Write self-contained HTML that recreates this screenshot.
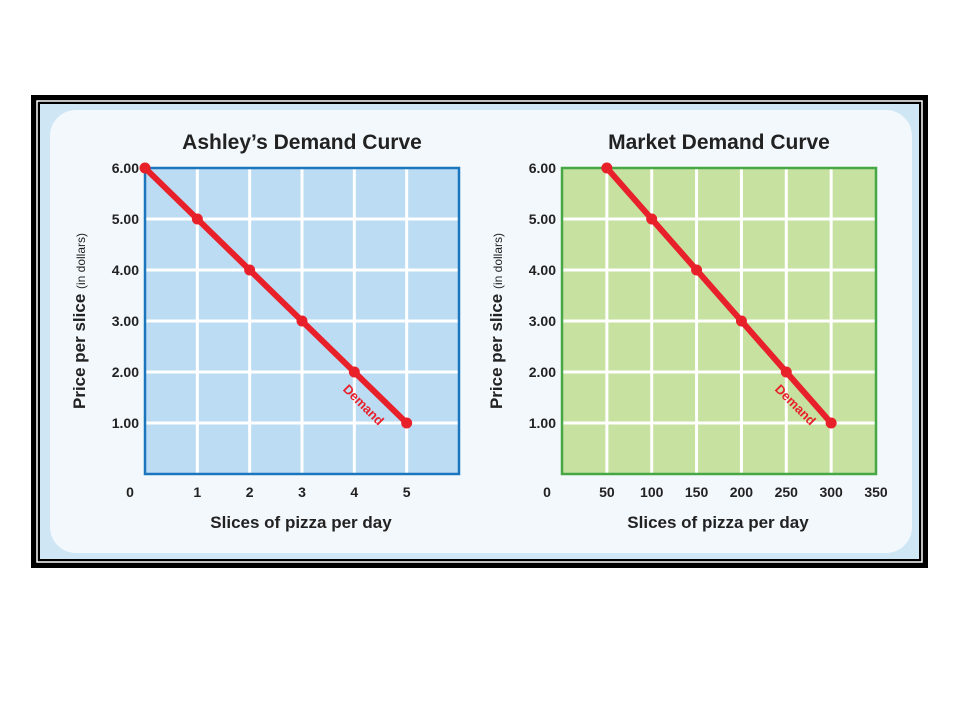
<!DOCTYPE html>
<html><head><meta charset="utf-8"><style>
body{margin:0;background:#fff;width:960px;height:720px;overflow:hidden}
svg{display:block;font-family:"Liberation Sans",Arial,sans-serif}
</style></head><body>
<svg id="s" width="960" height="720" viewBox="0 0 960 720">
<rect x="31" y="95" width="897" height="473" fill="#000"/>
<rect x="37" y="101" width="885" height="461" fill="none" stroke="#fff" stroke-width="1.5"/>
<rect x="40" y="104" width="879" height="455" fill="#cfe6f5"/>
<rect x="50" y="110" width="862" height="443" rx="26" fill="#f2f8fc"/>
<g id="g"></g>
</svg>
<script>
const ashleyQty=[0,1,2,3,4,5];
const ashleyPrice=[6,5,4,3,2,1];
const ashleyXTicks=[0,1,2,3,4,5];
const marketQty=[50,100,150,200,250,300];
const marketPrice=[6,5,4,3,2,1];
const marketXTicks=[0,50,100,150,200,250,300,350];
const yTicks=[1,2,3,4,5,6];
const NS='http://www.w3.org/2000/svg';
const g=document.getElementById('g');
function mk(t,a,p){const e=document.createElementNS(NS,t);for(const k in a)e.setAttribute(k,a[k]);(p||g).appendChild(e);return e;}
function chart(o){
  const L=o.left,R=o.left+314,T=168,B=474;
  const xs=v=>L+(v-o.xmin)/(o.xmax-o.xmin)*(R-L);
  const ys=v=>B-v/6*(B-T);
  const grp=mk('g',{});
  
  
  const bg=mk('rect',{x:L,y:T,width:R-L,height:B-T,fill:o.fill},grp);
  
  o.xticks.forEach(v=>{const x=xs(v);if(x>L+1&&x<R-1){const l=mk('line',{x1:x,x2:x,y1:T,y2:B,stroke:'#fff','stroke-width':3},grp);}
    const t=mk('text',{x:v===0?x-15:x,y:497,'text-anchor':'middle','font-size':14,'font-weight':'bold',fill:'#222'},grp);t.textContent=v;});
  yTicks.forEach(v=>{const y=ys(v);if(v<6){const l=mk('line',{x1:L,x2:R,y1:y,y2:y,stroke:'#fff','stroke-width':3},grp);}
    const t=mk('text',{x:L-6,y:y+5,'text-anchor':'end','font-size':14,'font-weight':'bold',fill:'#222'},grp);t.textContent=v.toFixed(2);});
  const br=mk('rect',{x:L,y:T,width:R-L,height:B-T,fill:'none',stroke:o.stroke,'stroke-width':2.5},grp);
  const pts=o.q.map((q,i)=>xs(q)+','+ys(o.p[i])).join(' ');
  const pl=mk('polyline',{points:pts,fill:'none',stroke:'#e8202a','stroke-width':6,'stroke-linecap':'round'},grp);
  o.q.forEach((q,i)=>{const c=mk('circle',{cx:xs(q),cy:ys(o.p[i]),r:5.5,fill:'#e8202a'},grp);});
  const lx=xs(o.q[4])+6,ly=ys(o.p[4])+36;
  const dl=mk('text',{x:lx,y:ly,'text-anchor':'middle','font-size':13,'font-weight':'bold',fill:'#e8202a',transform:`rotate(45 ${lx} ${ly})`},grp);dl.textContent='Demand';
  const ti=mk('text',{x:(L+R)/2,y:149,'text-anchor':'middle','font-size':21,'font-weight':'bold',fill:'#222'},grp);ti.textContent=o.title;
  const xt=mk('text',{x:(L+R)/2-1,y:528,'text-anchor':'middle','font-size':17,'font-weight':'bold',fill:'#222'},grp);xt.textContent='Slices of pizza per day';
  const yx=L-60,yy=321;
  const yt=mk('text',{x:yx,y:yy,'text-anchor':'middle','font-size':17,'font-weight':'bold',fill:'#222',transform:`rotate(-90 ${yx} ${yy})`},grp);
  
  const s1=mk('tspan',{},yt);s1.textContent='Price per slice ';
  const s2=mk('tspan',{'font-weight':'normal','font-size':12},yt);s2.textContent='(in dollars)';
}
chart({name:'ashley-chart',left:145,xmin:0,xmax:6,xticks:ashleyXTicks,q:ashleyQty,p:ashleyPrice,fill:'#bcdcf3',stroke:'#1b76bd',title:'Ashley\u2019s Demand Curve'});
chart({name:'market-chart',left:562,xmin:0,xmax:350,xticks:marketXTicks,q:marketQty,p:marketPrice,fill:'#c6e1a0',stroke:'#45a845',title:'Market Demand Curve'});
</script>
</body></html>
